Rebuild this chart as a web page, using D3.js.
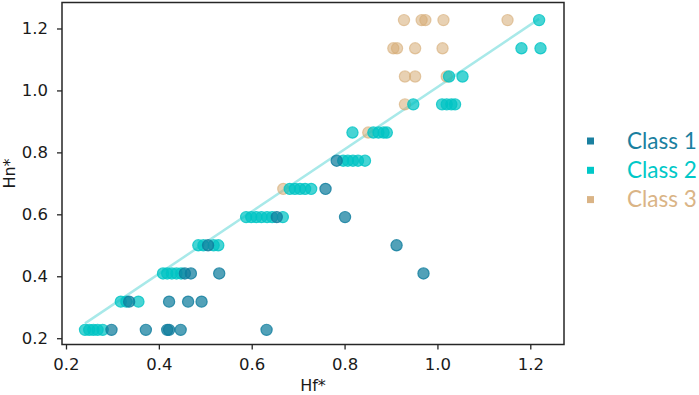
<!DOCTYPE html>
<html>
<head>
<meta charset="utf-8">
<script src="https://cdn.jsdelivr.net/npm/d3@7"></script>
<style>
  html, body { margin: 0; padding: 0; background: #fff; }
  svg { display: block; }
</style>
</head>
<body>
<svg id="chart" width="699" height="395"></svg>
<script>
// ---- data ----
const classNames = ["Class 1", "Class 2", "Class 3"];
const classColors = ["#0f7d9d", "#00c4c4", "#d6ab75"];
const legendTextColors = ["#1a80a0", "#00c8c8", "#dab486"];

const class1X = [0.298, 0.372, 0.418, 0.422, 0.447, 0.632,
                 0.336, 0.422, 0.463, 0.492,
                 0.456, 0.469, 0.530, 0.970,
                 0.506, 0.912,
                 0.654, 0.801,
                 0.759,
                 0.783];
const class1Y = [0.227, 0.227, 0.227, 0.227, 0.227, 0.227,
                 0.318, 0.318, 0.318, 0.318,
                 0.409, 0.409, 0.409, 0.409,
                 0.500, 0.500,
                 0.591, 0.591,
                 0.682,
                 0.773];

const class2X = [0.241, 0.250, 0.259, 0.268, 0.279,
                 0.318, 0.330, 0.356,
                 0.409, 0.418, 0.428, 0.438, 0.448,
                 0.485, 0.496, 0.518, 0.528,
                 0.588, 0.599, 0.610, 0.621, 0.633, 0.644, 0.667,
                 0.682, 0.693, 0.704, 0.715, 0.728,
                 0.797, 0.807, 0.818, 0.829, 0.844,
                 0.817, 0.862, 0.873, 0.884, 0.891,
                 0.948, 1.010, 1.020, 1.030, 1.038,
                 1.025, 1.054,
                 1.181, 1.222,
                 1.219];
const class2Y = [0.227, 0.227, 0.227, 0.227, 0.227,
                 0.318, 0.318, 0.318,
                 0.409, 0.409, 0.409, 0.409, 0.409,
                 0.500, 0.500, 0.500, 0.500,
                 0.591, 0.591, 0.591, 0.591, 0.591, 0.591, 0.591,
                 0.682, 0.682, 0.682, 0.682, 0.682,
                 0.773, 0.773, 0.773, 0.773, 0.773,
                 0.864, 0.864, 0.864, 0.864, 0.864,
                 0.955, 0.955, 0.955, 0.955, 0.955,
                 1.045, 1.045,
                 1.136, 1.136,
                 1.227];

const class3X = [0.668,
                 0.851,
                 0.930,
                 0.930, 0.952, 1.020,
                 0.905, 0.913, 0.952, 1.011,
                 0.928, 0.966, 0.974, 1.013, 1.151];
const class3Y = [0.682,
                 0.864,
                 0.955,
                 1.045, 1.045, 1.045,
                 1.136, 1.136, 1.136, 1.136,
                 1.227, 1.227, 1.227, 1.227, 1.227];

const fitLineX = [0.241, 1.219];
const fitLineY = [0.248, 1.231];

const xTicks = [0.2, 0.4, 0.6, 0.8, 1.0, 1.2];
const yTicks = [0.2, 0.4, 0.6, 0.8, 1.0, 1.2];
const xTitle = "Hf*";
const yTitle = "Hn*";

// ---- layout ----
const svg = d3.select("#chart");
const plot = { left: 62, right: 564, top: 2.5, bottom: 344.5 };

const x = d3.scaleLinear().domain([0.1914, 1.2726]).range([plot.left, plot.right]);
const y = d3.scaleLinear().domain([0.1797, 1.2839]).range([plot.bottom, plot.top]);

const axisFont = "'DejaVu Sans', sans-serif";

// fit line
svg.append("path")
  .datum(d3.zip(fitLineX, fitLineY))
  .attr("d", d3.line().x(d => x(d[0])).y(d => y(d[1])))
  .attr("fill", "none")
  .attr("stroke", "#a8e9e9")
  .attr("stroke-width", 2.5);

// points (draw order: class 3, class 2, class 1)
const series = [
  { xs: class3X, ys: class3Y, c: 2 },
  { xs: class2X, ys: class2Y, c: 1 },
  { xs: class1X, ys: class1Y, c: 0 }
];
series.forEach(s => {
  svg.append("g").selectAll("circle")
    .data(d3.zip(s.xs, s.ys))
    .join("circle")
    .attr("cx", d => x(d[0]))
    .attr("cy", d => y(d[1]))
    .attr("r", 5.6)
    .attr("fill", classColors[s.c])
    .attr("fill-opacity", s.c === 2 ? 0.55 : 0.72)
    .attr("stroke", classColors[s.c])
    .attr("stroke-opacity", s.c === 2 ? 0.6 : 0.8)
    .attr("stroke-width", 1.2);
});

// frame
svg.append("rect")
  .attr("x", plot.left).attr("y", plot.top)
  .attr("width", plot.right - plot.left).attr("height", plot.bottom - plot.top)
  .attr("fill", "none").attr("stroke", "#262626").attr("stroke-width", 1.5);

// axes
const xAxis = svg.append("g")
  .attr("transform", `translate(0,${plot.bottom})`)
  .call(d3.axisBottom(x).tickValues(xTicks).tickFormat(d3.format(".1f")).tickSize(5).tickPadding(9));
const yAxis = svg.append("g")
  .attr("transform", `translate(${plot.left},0)`)
  .call(d3.axisLeft(y).tickValues(yTicks).tickFormat(d3.format(".1f")).tickSize(5).tickPadding(9));

[xAxis, yAxis].forEach(a => {
  a.select(".domain").remove();
  a.selectAll(".tick line").attr("stroke", "#262626").attr("stroke-width", 1.3);
  a.selectAll(".tick text").attr("fill", "#1a1a1a")
    .style("font-family", axisFont).style("font-size", "16.5px");
});

// axis titles
svg.append("text")
  .attr("x", (plot.left + plot.right) / 2).attr("y", 391)
  .attr("text-anchor", "middle")
  .style("font-family", axisFont).style("font-size", "16px").attr("fill", "#1a1a1a")
  .text(xTitle);
svg.append("text")
  .attr("transform", `translate(15,${(plot.top + plot.bottom) / 2}) rotate(-90)`)
  .attr("text-anchor", "middle")
  .style("font-family", axisFont).style("font-size", "16px").attr("fill", "#1a1a1a")
  .text(yTitle);

// legend
const legend = svg.append("g");
classNames.forEach((name, i) => {
  const cy = 141 + i * 29.3;
  legend.append("rect")
    .attr("x", 587).attr("y", cy - 3.5).attr("width", 7).attr("height", 7)
    .attr("fill", legendTextColors[i]);
  legend.append("text")
    .attr("x", 627).attr("y", cy + 7.8)
    .style("font-family", "Lato, sans-serif").style("font-size", "22.5px")
    .attr("fill", legendTextColors[i])
    .text(name);
});
</script>
</body>
</html>
